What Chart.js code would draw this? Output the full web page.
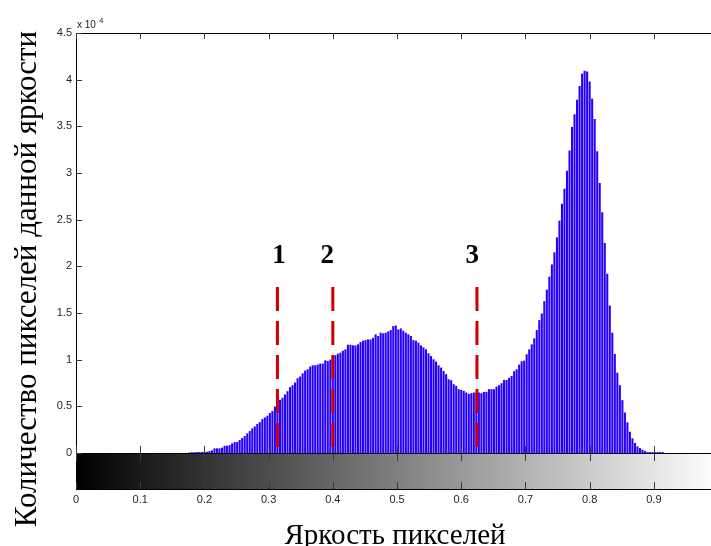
<!DOCTYPE html>
<html>
<head>
<meta charset="utf-8">
<script src="https://cdn.jsdelivr.net/npm/chart.js@4.4.1/dist/chart.umd.min.js"></script>
<style>
  html, body { margin: 0; padding: 0; background: #fff; }
  #wrap { width: 711px; height: 546px; position: relative; }
</style>
</head>
<body>
<div id="wrap"><canvas id="c" width="711" height="546"></canvas></div>
<script>
// ---- data (256-bin brightness histogram, bins 0..255 map to 0..1) ----
const binCount = 256;
const firstBin = 45;               // bins before this are empty
const counts = [
  60, 80, 90, 100, 110, 110, 130, 140, 210, 290,
  500, 500, 500, 570, 780, 780, 850, 1030, 1170, 1180,
  1390, 1600, 1820, 2100, 2350, 2640, 2850, 3100, 3310, 3630,
  3810, 4000, 4290, 4490, 4980, 5200, 5700, 5910, 6270, 6620,
  7050, 7260, 7550, 8010, 8190, 8540, 8830, 8970, 9260, 9400,
  9400, 9470, 9580, 9580, 9930, 9860, 10000, 10470, 10470, 10640,
  10750, 10960, 11110, 11600, 11600, 11540, 11530, 11640, 11890, 12030,
  12100, 12170, 12170, 12350, 12710, 12530, 12890, 12820, 12890, 13030,
  13170, 13600, 13670, 13240, 13350, 13100, 12890, 12710, 12530, 12100,
  12030, 11820, 11530, 11320, 11110, 10680, 10390, 10040, 9800, 9400,
  9150, 8790, 8440, 7900, 7800, 7370, 7190, 6840, 6760, 6660,
  6480, 6340, 6410, 6480, 6480, 6480, 6410, 6550, 6550, 6840,
  6840, 6840, 7120, 7260, 7480, 7830, 7830, 8050, 8260, 8760,
  8970, 9470, 9830, 9900, 10570, 11100, 11640, 12280, 13170, 14240,
  14950, 16270, 17500, 18900, 20200, 21500, 23100, 24900, 26700, 28310,
  30230, 32400, 34940, 36290, 37860, 39320, 40670, 40950, 40880, 39810,
  37960, 35790, 32330, 28920, 25800, 22500, 19200, 15800, 12900, 10600,
  8600, 7260, 5660, 4340, 3280, 2280, 1570, 1070, 710, 530,
  360, 210, 100, 100, 100, 100, 100, 100, 100
];
const xTicks = [0, 0.1, 0.2, 0.3, 0.4, 0.5, 0.6, 0.7, 0.8, 0.9];
const yTicks = [0, 5000, 10000, 15000, 20000, 25000, 30000, 35000, 40000, 45000];
const yTickLabels = ['0', '0.5', '1', '1.5', '2', '2.5', '3', '3.5', '4', '4.5'];
const markerNames = ['1', '2', '3'];
const markerX = [0.3137, 0.4, 0.6245];
const markerTop = 17786, markerBottom = 640;
const markerLabelX = [0.3162, 0.3914, 0.6173];
const markerLabelY = 21100;
const xTitle = 'Яркость пикселей';
const yTitle = 'Количество пикселей данной яркости';
const xMin = 0, xMax = 0.989;
const yMin = -3857, yMax = 45000;

const histData = counts.map((v, i) => ({ x: (firstBin + i) / (binCount - 1), y: v }));

const markerSets = markerX.map((mx) => ({
  type: 'line',
  data: [{ x: mx, y: markerTop }, { x: mx, y: markerBottom }],
  borderColor: '#cc0000',
  borderWidth: 3,
  borderDash: [24, 10],
  borderCapStyle: 'butt',
  pointRadius: 0,
  fill: false,
  order: 1
}));

const overlay = {
  id: 'overlay',
  beforeDatasetsDraw(chart) {
    const { ctx, chartArea: a, scales: { x, y } } = chart;
    const y0 = y.getPixelForValue(0);
    const g = ctx.createLinearGradient(x.getPixelForValue(0), 0, x.getPixelForValue(1), 0);
    g.addColorStop(0, '#000000');
    g.addColorStop(1, '#ffffff');
    ctx.save();
    ctx.fillStyle = g;
    ctx.fillRect(a.left, y0, a.right - a.left, a.bottom - y0);
    ctx.restore();
  },
  afterDatasetsDraw(chart) {
    const { ctx, chartArea: a, scales: { x, y } } = chart;
    const y0 = Math.round(y.getPixelForValue(0));
    ctx.save();
    // top frame line and zero line
    ctx.strokeStyle = '#000';
    ctx.lineWidth = 1;
    ctx.beginPath();
    ctx.moveTo(a.left, Math.round(a.top) + 0.5);
    ctx.lineTo(a.right, Math.round(a.top) + 0.5);
    ctx.moveTo(a.left, y0 + 0.5);
    ctx.lineTo(a.right, y0 + 0.5);
    ctx.stroke();
    // inward tick marks
    ctx.strokeStyle = '#3a3a3a';
    ctx.beginPath();
    xTicks.forEach((v) => {
      const px = Math.round(x.getPixelForValue(v)) + 0.5;
      ctx.moveTo(px, a.top); ctx.lineTo(px, a.top + 6);
      ctx.moveTo(px, y0); ctx.lineTo(px, y0 - 7);
      ctx.moveTo(px, y0 + 1); ctx.lineTo(px, y0 + 8);
      ctx.moveTo(px, a.bottom); ctx.lineTo(px, a.bottom - 7);
    });
    yTicks.forEach((v) => {
      const py = Math.round(y.getPixelForValue(v)) + 0.5;
      ctx.moveTo(a.left, py); ctx.lineTo(a.left + 6, py);
    });
    ctx.stroke();
    // marker labels
    ctx.fillStyle = '#000';
    ctx.font = 'bold 27px "Liberation Serif", "Times New Roman", serif';
    ctx.textAlign = 'center';
    ctx.textBaseline = 'middle';
    markerNames.forEach((n, i) => {
      ctx.fillText(n, x.getPixelForValue(markerLabelX[i]), y.getPixelForValue(markerLabelY));
    });
    ctx.restore();
  },
  afterDraw(chart) {
    const { ctx, chartArea: a } = chart;
    ctx.save();
    // exponent label
    ctx.fillStyle = '#222';
    ctx.textAlign = 'left';
    ctx.textBaseline = 'alphabetic';
    ctx.font = '10px "Liberation Sans", Arial, sans-serif';
    ctx.fillText('x 10', a.left + 1, 28);
    ctx.font = '8px "Liberation Sans", Arial, sans-serif';
    ctx.fillText('4', a.left + 23, 23);
    // axis titles
    ctx.fillStyle = '#000';
    ctx.font = '29px "Liberation Serif", "Times New Roman", serif';
    ctx.textAlign = 'center';
    ctx.fillText(xTitle, 395, 544);
    ctx.translate(36, 279);
    ctx.rotate(-Math.PI / 2);
    ctx.font = '31px "Liberation Serif", "Times New Roman", serif';
    ctx.fillText(yTitle, 0, 0);
    ctx.restore();
  }
};

new Chart(document.getElementById('c'), {
  type: 'bar',
  data: {
    datasets: [
      ...markerSets,
      {
        type: 'bar',
        data: histData,
        backgroundColor: 'rgb(38,0,255)',
        borderWidth: 0,
        barPercentage: 0.82,
        categoryPercentage: 1.0,
        order: 2
      }
    ]
  },
  options: {
    responsive: false,
    animation: false,
    events: [],
    layout: { padding: { left: 0, top: 33, right: 0, bottom: 0 } },
    plugins: { legend: { display: false }, tooltip: { enabled: false } },
    scales: {
      x: {
        type: 'linear',
        min: xMin,
        max: xMax,
        offset: false,
        grid: { display: false, drawTicks: false },
        border: { display: true, color: '#000', width: 1 },
        afterBuildTicks: (s) => { s.ticks = xTicks.map((v) => ({ value: v })); },
        afterFit: (s) => { s.height = 57; },
        ticks: {
          padding: 4,
          maxRotation: 0,
          autoSkip: false,
          color: '#262626',
          font: { family: '"Liberation Sans", Arial, sans-serif', size: 11 },
          callback: (v) => String(Math.round(v * 10) / 10)
        }
      },
      y: {
        type: 'linear',
        min: yMin,
        max: yMax,
        grid: { display: false, drawTicks: false },
        border: { display: true, color: '#000', width: 1 },
        afterBuildTicks: (s) => { s.ticks = yTicks.map((v) => ({ value: v })); },
        afterFit: (s) => { s.width = 76; },
        ticks: {
          padding: 4,
          autoSkip: false,
          color: '#262626',
          font: { family: '"Liberation Sans", Arial, sans-serif', size: 11 },
          callback: (v) => yTickLabels[yTicks.indexOf(v)]
        }
      }
    }
  },
  plugins: [overlay]
});
</script>
</body>
</html>
